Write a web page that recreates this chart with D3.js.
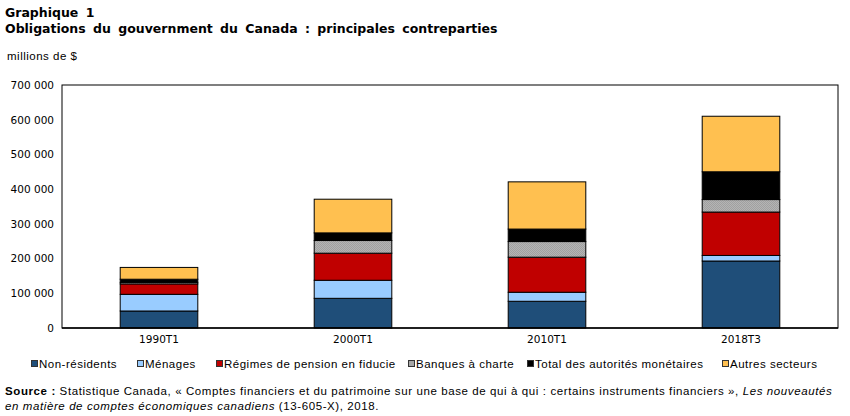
<!DOCTYPE html>
<html>
<head>
<meta charset="utf-8">
<script src="https://cdn.jsdelivr.net/npm/d3@7"></script>
<style>
  body { margin: 0; background: #fff; }
  svg { display: block; }
  .title { font-family: "DejaVu Sans", Verdana, sans-serif; font-weight: bold; font-size: 12.5px; word-spacing: 3px; }
  .unit, .legend text, .source { font-family: "Liberation Sans", Tahoma, sans-serif; font-size: 11.5px; letter-spacing: 0.5px; }
  .source { letter-spacing: 0.6px; }
  .tick text { font-family: "DejaVu Sans", Verdana, sans-serif; font-size: 10.5px; fill: #000; }
</style>
</head>
<body>
<svg id="chart" width="850" height="416"></svg>
<script>
const periods = ['1990T1', '2000T1', '2010T1', '2018T3'];
const seriesNames = ['Non-résidents', 'Ménages', 'Régimes de pension en fiducie', 'Banques à charte', 'Total des autorités monétaires', 'Autres secteurs'];
const nonResidents = [49000, 85500, 77000, 193000];
const menages = [48000, 52000, 26000, 16000];
const regimes = [30000, 78000, 101000, 125000];
const banques = [4500, 36500, 45000, 36000];
const autorites = [9000, 22000, 36000, 80000];
const autres = [34000, 97000, 136000, 160000];
const yTicks = [0, 100000, 200000, 300000, 400000, 500000, 600000, 700000];

const colors = ['#1f4e79', '#99ccff', '#c00000', 'url(#hatch)', '#000000', '#ffc050'];
const legendColors = ['#1f4e79', '#99ccff', '#c00000', '#a6a6a6', '#000000', '#ffc050'];
const legendX = [31, 137, 216, 408, 527, 722];

const svg = d3.select('#chart');
const margin = { left: 62, right: 12, top: 85, bottom: 88 };
const width = 850, height = 416;

// gray mottled fill for "Banques à charte"
const pat = svg.append('defs').append('pattern')
    .attr('id', 'hatch').attr('width', 2).attr('height', 2)
    .attr('patternUnits', 'userSpaceOnUse');
pat.append('rect').attr('width', 2).attr('height', 2).attr('fill', '#b4b4b4');
pat.append('rect').attr('width', 1).attr('height', 1).attr('fill', '#a0a0a0');
pat.append('rect').attr('x', 1).attr('y', 1).attr('width', 1).attr('height', 1).attr('fill', '#a0a0a0');

const rows = periods.map((p, i) => ({
    period: p,
    s0: nonResidents[i], s1: menages[i], s2: regimes[i],
    s3: banques[i], s4: autorites[i], s5: autres[i]
}));
const stack = d3.stack().keys(['s0', 's1', 's2', 's3', 's4', 's5'])(rows);

const x = d3.scaleBand().domain(periods)
    .range([margin.left, width - margin.right])
    .paddingInner(0.6).paddingOuter(0.3);
const y = d3.scaleLinear().domain([0, 700000])
    .range([height - margin.bottom, margin.top]);

// Titles
svg.append('text').attr('class', 'title').attr('x', 5).attr('y', 17).text('Graphique 1');
svg.append('text').attr('class', 'title').attr('x', 5).attr('y', 33)
    .text('Obligations du gouvernment du Canada : principales contreparties');
svg.append('text').attr('class', 'unit').attr('x', 7).attr('y', 60).text('millions de $');

// Y axis
const fmt = v => d3.format(',')(v).replace(/,/g, ' ');
svg.append('g')
    .attr('transform', `translate(${margin.left - 8},0)`)
    .call(d3.axisLeft(y).tickValues(yTicks).tickFormat(fmt).tickSize(0).tickPadding(0))
    .call(g => g.select('.domain').remove());

// Bars
svg.append('g').selectAll('g')
    .data(stack)
    .join('g')
    .attr('fill', (d, i) => colors[i])
    .selectAll('rect')
    .data(d => d)
    .join('rect')
    .attr('x', d => x(d.data.period))
    .attr('width', x.bandwidth())
    .attr('y', d => y(d[1]))
    .attr('height', d => y(d[0]) - y(d[1]))
    .attr('stroke', '#000')
    .attr('stroke-width', 1);

// Frame
svg.append('rect')
    .attr('x', margin.left).attr('y', margin.top)
    .attr('width', width - margin.left - margin.right)
    .attr('height', height - margin.top - margin.bottom)
    .attr('fill', 'none').attr('stroke', '#000').attr('stroke-width', 1);
svg.append('line')
    .attr('x1', margin.left).attr('x2', width - margin.right)
    .attr('y1', y(0)).attr('y2', y(0))
    .attr('stroke', '#000').attr('stroke-width', 1.5);

// X axis labels
svg.append('g')
    .attr('transform', `translate(0,${y(0) + 8})`)
    .call(d3.axisBottom(x).tickSize(0).tickPadding(0))
    .call(g => g.select('.domain').remove());

// Legend
const legend = svg.append('g').attr('class', 'legend').attr('transform', 'translate(0,368)');
const items = legend.selectAll('g')
    .data(seriesNames)
    .join('g')
    .attr('transform', (d, i) => `translate(${legendX[i]},0)`);
items.append('rect').attr('x', 0.5).attr('y', -7.5).attr('width', 6).attr('height', 6)
    .attr('fill', (d, i) => legendColors[i]).attr('stroke', '#333').attr('stroke-width', 1);
items.append('text').attr('x', 8).attr('y', 0).text(d => d);

// Source
const src = svg.append('text').attr('class', 'source').attr('x', 5).attr('y', 395);
src.append('tspan').attr('font-weight', 'bold').text('Source : ');
src.append('tspan').text('Statistique Canada, « Comptes financiers et du patrimoine sur une base de qui à qui : certains instruments financiers », ');
src.append('tspan').attr('font-style', 'italic').text('Les nouveautés');
const src2 = svg.append('text').attr('class', 'source').attr('x', 5).attr('y', 410);
src2.append('tspan').attr('font-style', 'italic').text('en matière de comptes économiques canadiens');
src2.append('tspan').text(' (13-605-X), 2018.');
</script>
</body>
</html>
